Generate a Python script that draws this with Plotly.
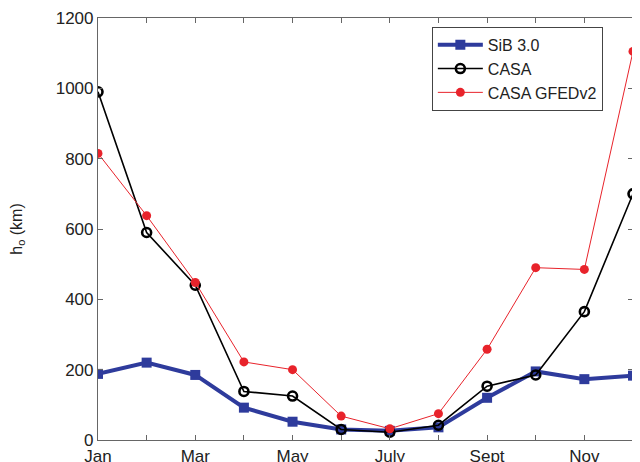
import plotly.graph_objects as go

months = ["Jan", "Feb", "Mar", "Apr", "May", "Jun", "Jul", "Aug", "Sep", "Oct", "Nov", "Dec"]
tick_labels = ["Jan", "", "Mar", "", "May", "", "July", "", "Sept", "", "Nov", ""]
sib = [188, 220, 185, 92, 52, 30, 26, 36, 120, 195, 173, 183]
casa = [990, 590, 440, 138, 125, 30, 22, 42, 153, 185, 365, 700]
gfed = [815, 638, 448, 222, 200, 68, 32, 75, 258, 490, 485, 1105]

x = list(range(1, 13))

fig = go.Figure()
fig.add_trace(go.Scatter(x=x, y=sib, name="SiB 3.0", mode="lines+markers",
                         line=dict(color="#2e3b9c", width=4),
                         marker=dict(symbol="square", size=10, color="#2e3b9c")))
fig.add_trace(go.Scatter(x=x, y=casa, name="CASA", mode="lines+markers",
                         line=dict(color="black", width=1.6),
                         marker=dict(symbol="circle-open", size=9, color="black",
                                     line=dict(width=2.6, color="black"))))
fig.add_trace(go.Scatter(x=x, y=gfed, name="CASA GFEDv2", mode="lines+markers",
                         line=dict(color="#e8232b", width=1),
                         marker=dict(symbol="circle", size=9, color="#e8232b")))

axis_common = dict(showline=True, linecolor="#666666", linewidth=1.2, mirror="ticks",
                   ticks="inside", ticklen=5, tickcolor="#666666", showgrid=False,
                   zeroline=False, tickfont=dict(family="Liberation Sans, Arial", size=17, color="#222222"))

fig.update_xaxes(range=[1, 12], tickmode="array", tickvals=x, ticktext=tick_labels,
                 automargin=False, **axis_common)
fig.update_yaxes(range=[0, 1200], tickmode="array", tickvals=[0, 200, 400, 600, 800, 1000, 1200],
                 title=dict(text="h<sub>o</sub> (km)", font=dict(family="Liberation Sans, Arial", size=16, color="#222222"),
                            standoff=30),
                 automargin=False, **axis_common)

fig.update_layout(
    width=640, height=462,
    margin=dict(l=90, r=15, t=10, b=30, autoexpand=False),
    plot_bgcolor="white", paper_bgcolor="white",
    showlegend=True,
    legend=dict(x=0.624, y=0.979, xanchor="left", yanchor="top",
                bgcolor="white", bordercolor="#444444", borderwidth=1,
                font=dict(family="Liberation Sans, Arial", size=16, color="#222222"),
                tracegroupgap=0, itemwidth=45),
)

fig.write_html("out.html")
